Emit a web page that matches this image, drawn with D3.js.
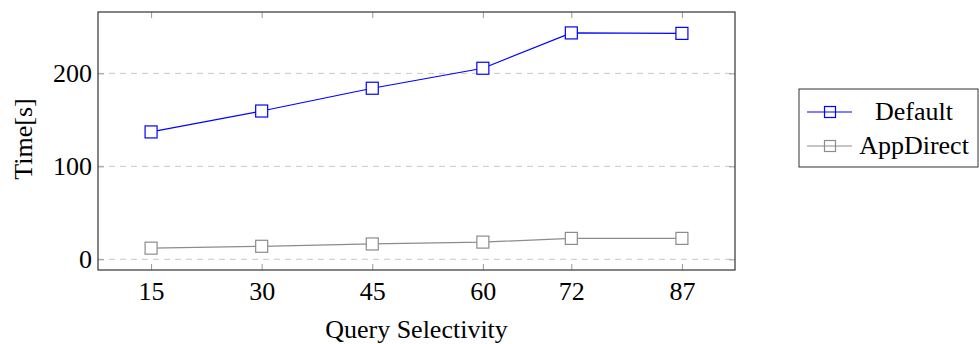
<!DOCTYPE html>
<html>
<head>
<meta charset="utf-8">
<script src="https://cdn.jsdelivr.net/npm/d3@7"></script>
<style>
  body { margin: 0; background: #fff; }
  svg text { font-family: "Liberation Serif", "Times New Roman", serif; fill: #000; font-size: 26px; }
</style>
</head>
<body>
<div id="chart"></div>
<script>
// 数据
const selectivity = [15, 30, 45, 60, 72, 87];
const defaultTimes = [137, 159.5, 184, 205.5, 243.5, 243];
const appDirectTimes = [12, 14, 16.5, 18.5, 22.5, 22.5];
const yTicks = [0, 100, 200];
const seriesNames = ["Default", "AppDirect"];
const seriesColors = ["#0000ff", "#8c8c8c"];

const W = 979, H = 344;
const plot = { left: 98, top: 12, right: 735, bottom: 270 };

const svg = d3.select("#chart").append("svg")
    .attr("width", W).attr("height", H);

const x = d3.scaleLinear().domain([7.8, 94.2]).range([plot.left, plot.right]);
const y = d3.scaleLinear().domain([-11.5, 266]).range([plot.bottom, plot.top]);

// 网格线
svg.append("g").selectAll("line").data(yTicks).join("line")
    .attr("x1", plot.left).attr("x2", plot.right)
    .attr("y1", d => y(d)).attr("y2", d => y(d))
    .attr("stroke", "#c8c8c8").attr("stroke-width", 1)
    .attr("stroke-dasharray", "6,5");

// 坐标轴（刻度朝内）
const tickColor = "#999";
const xb = svg.append("g").attr("transform", `translate(0,${plot.bottom})`)
    .call(d3.axisBottom(x).tickValues(selectivity).tickSize(-6).tickPadding(12));
const xt = svg.append("g").attr("transform", `translate(0,${plot.top})`)
    .call(d3.axisTop(x).tickValues(selectivity).tickSize(-6).tickFormat(""));
const yl = svg.append("g").attr("transform", `translate(${plot.left},0)`)
    .call(d3.axisLeft(y).tickValues(yTicks).tickSize(-6).tickPadding(6));
const yr = svg.append("g").attr("transform", `translate(${plot.right},0)`)
    .call(d3.axisRight(y).tickValues(yTicks).tickSize(-6).tickFormat(""));
[xb, xt, yl, yr].forEach(a => {
    a.attr("font-family", null).attr("font-size", null);
    a.select(".domain").remove();
    a.selectAll(".tick line").attr("stroke", tickColor);
    a.selectAll(".tick text").attr("fill", "#000");
});

// 边框
svg.append("rect")
    .attr("x", plot.left).attr("y", plot.top)
    .attr("width", plot.right - plot.left).attr("height", plot.bottom - plot.top)
    .attr("fill", "none").attr("stroke", "#333").attr("stroke-width", 1.2);

// 系列
const series = [defaultTimes, appDirectTimes];
const line = d3.line().x((d, i) => x(selectivity[i])).y(d => y(d));
const m = 12;
series.forEach((vals, si) => {
    svg.append("path").datum(vals)
        .attr("d", line).attr("fill", "none")
        .attr("stroke", seriesColors[si]).attr("stroke-width", 1.2);
    svg.append("g").selectAll("rect").data(vals).join("rect")
        .attr("x", (d, i) => x(selectivity[i]) - m / 2)
        .attr("y", d => y(d) - m / 2)
        .attr("width", m).attr("height", m)
        .attr("fill", "#fff").attr("stroke", seriesColors[si]).attr("stroke-width", 1.2);
});

// 轴标签
svg.append("text").attr("x", (plot.left + plot.right) / 2).attr("y", 338)
    .attr("text-anchor", "middle").text("Query Selectivity");
svg.append("text").attr("transform", "translate(32,139) rotate(-90)")
    .attr("text-anchor", "middle").text("Time[s]");

// 图例
const lg = svg.append("g");
lg.append("rect").attr("x", 799).attr("y", 89).attr("width", 179).attr("height", 78)
    .attr("fill", "#fff").attr("stroke", "#333").attr("stroke-width", 1);
seriesNames.forEach((name, i) => {
    const cy = 112 + i * 34;
    lg.append("line").attr("x1", 807).attr("x2", 852).attr("y1", cy).attr("y2", cy)
        .attr("stroke", seriesColors[i]).attr("stroke-width", 1.2);
    lg.append("rect").attr("x", 830 - 5.5).attr("y", cy - 5.5).attr("width", 11).attr("height", 11)
        .attr("fill", "none").attr("stroke", seriesColors[i]).attr("stroke-width", 1.2);
    lg.append("text").attr("x", 914).attr("y", cy + 8).attr("text-anchor", "middle")
        .text(name);
});
</script>
</body>
</html>
